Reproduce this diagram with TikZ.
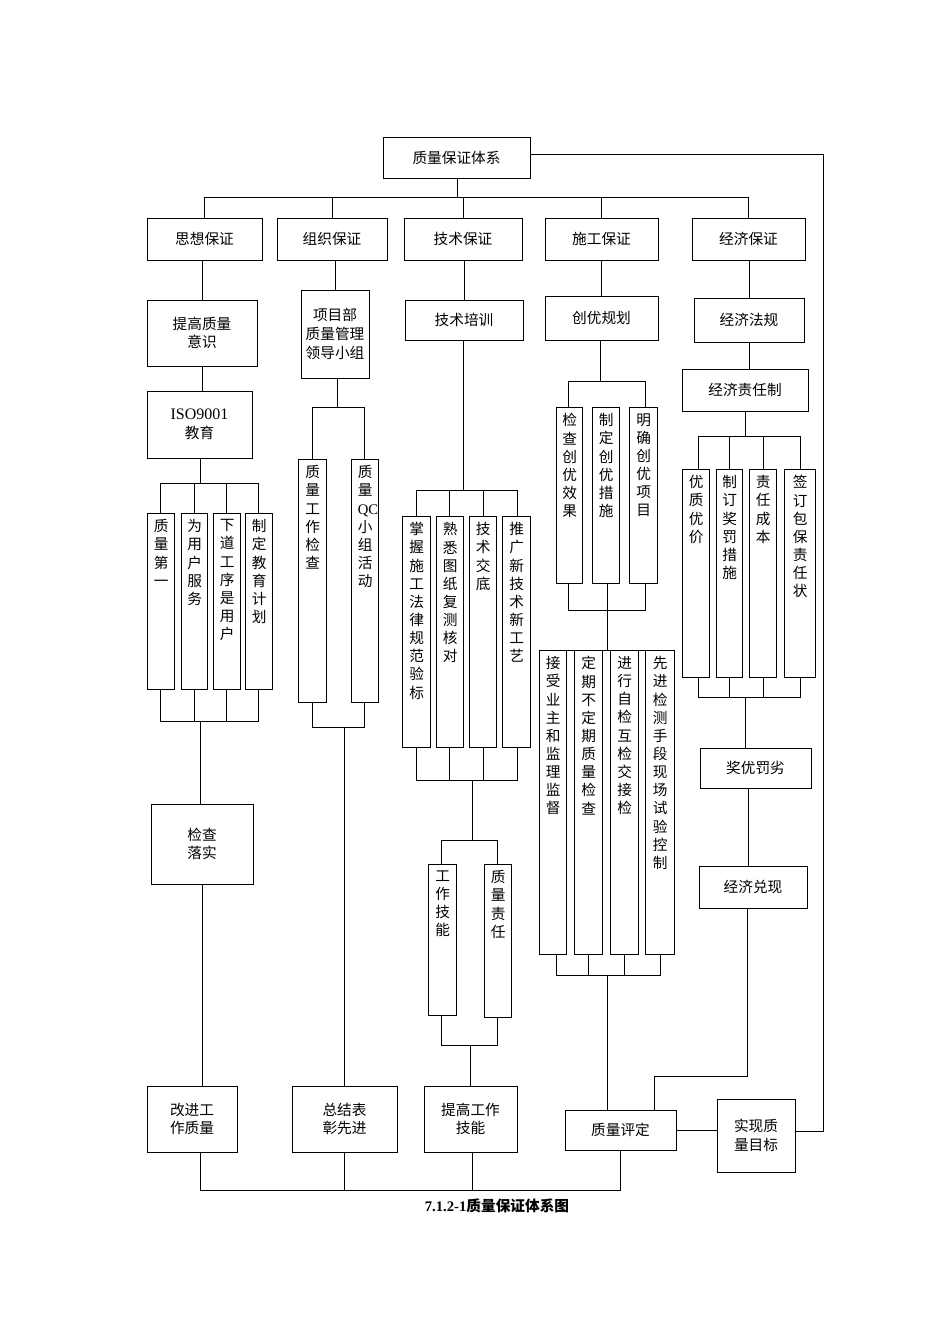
\documentclass[tikz,border=0pt]{standalone}
\usepackage{fontspec}
\setmainfont{Liberation Serif}
\newfontfamily\cjk{Noto Sans CJK SC}
\tikzset{
 box/.style={draw,line width=0.6pt,inner sep=1pt,font=\cjk\fontsize{11}{14}\selectfont,align=center},
 vtext/.style={inner sep=0pt,text width=1em,align=center,font=\cjk\fontsize{11}{13.6}\selectfont},
 ln/.style={line width=0.6pt}
}
\newcommand\hb[6]{\node[box,minimum width={(#4-#2)*0.75pt},minimum height={(#5-#3)*0.75pt}] (#1) at ({(#2+#4)/2},{(#3+#5)/2}) {#6};}
\newcommand\vb[6]{\node[box,minimum width={(#4-#2)*0.75pt},minimum height={(#5-#3)*0.75pt}] (#1) at ({(#2+#4)/2},{(#3+#5)/2}) {};
 \node[vtext,anchor=north] at ([yshift=-5pt]#1.north) {#6};}
\begin{document}
\begin{tikzpicture}[x=0.75pt,y=-0.75pt]
\useasboundingbox (0,0) rectangle (950,1344);
\fill[white] (0,0) rectangle (950,1344);
\hb{top}{383}{137}{530}{178}{质量保证体系}
\hb{s1}{147}{218}{262}{260}{思想保证}
\hb{s2}{277}{218}{387}{260}{组织保证}
\hb{s3}{404}{218}{522}{260}{技术保证}
\hb{s4}{545}{218}{658}{260}{施工保证}
\hb{s5}{692}{218}{805}{260}{经济保证}
\coordinate (bus1) at (457,197);
\draw[ln] (top.south-|bus1) -- (bus1);
\draw[ln] (s1.north) -- (s1.north|-bus1) -- (s5.north|-bus1) -- (s5.north);
\foreach \n in {s2,s3,s4} \draw[ln] (\n.north) -- (\n.north|-bus1);
% level 2
\hb{a1}{147}{300}{257}{366}{提高质量\\意识}
\hb{b1}{301}{290}{369}{378}{项目部\\质量管理\\领导小组}
\hb{c1}{405}{300}{523}{340}{技术培训}
\hb{d1}{545}{296}{658}{340}{创优规划}
\hb{e1}{694}{298}{804}{342}{经济法规}
\hb{e2}{682}{369}{808}{411}{经济责任制}
\hb{a2}{147}{391}{252}{458}{{\rmfamily\fontsize{12}{14}\selectfont ISO9001}\\教育}
\draw[ln] (s1.south-|a1.north) -- (a1.north);
\draw[ln] (a1.south) -- (a1.south|-a2.north);
\draw[ln] (s2.south-|b1.north) -- (b1.north);
\draw[ln] (s3.south-|c1.north) -- (c1.north);
\draw[ln] (s4.south-|d1.north) -- (d1.north);
\draw[ln] (s5.south-|e1.north) -- (e1.north);
\draw[ln] (e1.south) -- (e1.south|-e2.north);
% 思想
\vb{a3}{147}{513}{174}{689}{质\\量\\第\\一}
\vb{a4}{181}{513}{207}{689}{为\\用\\户\\服\\务}
\vb{a5}{213}{513}{240}{689}{下\\道\\工\\序\\是\\用\\户}
\vb{a6}{245}{513}{272}{689}{制\\定\\教\\育\\计\\划}
\coordinate (ab1) at (200,483);
\coordinate (ab2) at (200,721);
\draw[ln] (a2.south-|ab1) -- (ab1);
\draw[ln] (a3.north) -- (a3.north|-ab1) -- (a6.north|-ab1) -- (a6.north);
\draw[ln] (a4.north) -- (a4.north|-ab1) (a5.north) -- (a5.north|-ab1);
\draw[ln] (a3.south) -- (a3.south|-ab2) -- (a6.south|-ab2) -- (a6.south);
\draw[ln] (a4.south) -- (a4.south|-ab2) (a5.south) -- (a5.south|-ab2);
\hb{a7}{151}{804}{253}{884}{检查\\落实}
\hb{a8}{147}{1086}{237}{1152}{改进工\\作质量}
\draw[ln] (ab2) -- (ab2|-a7.north);
\draw[ln] (a7.south) -- (a7.south|-a8.north);
% 组织
\vb{b2}{298}{459}{326}{702}{质\\量\\工\\作\\检\\查}
\vb{b3}{351}{459}{378}{702}{质\\量\\{\fontsize{11}{13}\selectfont\rmfamily QC}\\小\\组\\活\\动}
\coordinate (bb1) at (337,407);
\coordinate (bb2) at (344,727);
\draw[ln] (b1.south-|bb1) -- (bb1);
\draw[ln] (b2.north-|312,0) -- (312,407) -- (364,407) -- (b3.north-|364,0);
\draw[ln] (b2.south-|312,0) -- (312,727) -- (364,727) -- (b3.south-|364,0);
\hb{b4}{292}{1086}{397}{1152}{总结表\\彰先进}
\draw[ln] (bb2) -- (bb2|-b4.north);
% 技术
\vb{c2}{402}{516}{430}{747}{掌\\握\\施\\工\\法\\律\\规\\范\\验\\标}
\vb{c3}{436}{516}{463}{747}{熟\\悉\\图\\纸\\复\\测\\核\\对}
\vb{c4}{469}{516}{496}{747}{技\\术\\交\\底}
\vb{c5}{502}{516}{530}{747}{推\\广\\新\\技\\术\\新\\工\\艺}
\coordinate (cb1) at (463,490);
\coordinate (cb2) at (472,780);
\draw[ln] (c1.south-|cb1) -- (cb1);
\draw[ln] (c2.north-|416,0) -- (416,490) -- (517,490) -- (c5.north-|517,0);
\draw[ln] (c3.north-|449,0) -- (449,490) (c4.north-|483,0) -- (483,490);
\draw[ln] (c2.south-|416,0) -- (416,780) -- (517,780) -- (c5.south-|517,0);
\draw[ln] (c3.south-|449,0) -- (449,780) (c4.south-|483,0) -- (483,780);
\vb{c6}{428}{864}{456}{1015}{工\\作\\技\\能}
\vb{c7}{484}{864}{511}{1017}{质\\量\\责\\任}
\coordinate (cb3) at (472,840);
\coordinate (cb4) at (470,1045);
\draw[ln] (cb2) -- (cb3);
\draw[ln] (c6.north-|441,0) -- (441,840) -- (497,840) -- (c7.north-|497,0);
\draw[ln] (c6.south-|441,0) -- (441,1045) -- (497,1045) -- (c7.south-|497,0);
\hb{c8}{424}{1086}{517}{1152}{提高工作\\技能}
\draw[ln] (cb4) -- (cb4|-c8.north);
% 施工
\vb{d2}{556}{407}{582}{583}{检\\查\\创\\优\\效\\果}
\vb{d3}{592}{407}{619}{583}{制\\定\\创\\优\\措\\施}
\vb{d4}{629}{407}{657}{583}{明\\确\\创\\优\\项\\目}
\coordinate (db1) at (600,381);
\draw[ln] (d1.south-|db1) -- (db1);
\draw[ln] (d2.north-|568,0) -- (568,381) -- (645,381) -- (d4.north-|645,0);
\draw[ln] (d2.south-|568,0) -- (568,610) -- (645,610) -- (d4.south-|645,0);
\draw[ln] (d3.south-|607,0) -- (607,610);
\vb{d5}{539}{650}{566}{954}{接\\受\\业\\主\\和\\监\\理\\监\\督}
\vb{d6}{574}{650}{602}{954}{定\\期\\不\\定\\期\\质\\量\\检\\查}
\vb{d7}{610}{650}{638}{954}{进\\行\\自\\检\\互\\检\\交\\接\\检}
\vb{d8}{645}{650}{674}{954}{先\\进\\检\\测\\手\\段\\现\\场\\试\\验\\控\\制}
\draw[ln] (607,610) -- (607,650);
\draw[ln] (d5.north-|556,0) -- (556,650) -- (660,650) -- (d8.north-|660,0);
\draw[ln] (d5.south-|556,0) -- (556,975) -- (660,975) -- (d8.south-|660,0);
\draw[ln] (d6.south-|588,0) -- (588,975) (d7.south-|624,0) -- (624,975);
\hb{d9}{565}{1110}{676}{1150}{质量评定}
\draw[ln] (607,975) -- (d9.north-|607,0);
% 经济
\vb{e3}{682}{469}{709}{677}{优\\质\\优\\价}
\vb{e4}{716}{469}{742}{677}{制\\订\\奖\\罚\\措\\施}
\vb{e5}{749}{469}{776}{677}{责\\任\\成\\本}
\vb{e6}{784}{469}{815}{677}{签\\订\\包\\保\\责\\任\\状}
\draw[ln] (e2.south-|745,0) -- (745,436);
\draw[ln] (e3.north-|698,0) -- (698,436) -- (800,436) -- (e6.north-|800,0);
\draw[ln] (e4.north-|729,0) -- (729,436) (e5.north-|763,0) -- (763,436);
\draw[ln] (e3.south-|698,0) -- (698,697) -- (800,697) -- (e6.south-|800,0);
\draw[ln] (e4.south-|729,0) -- (729,697) (e5.south-|763,0) -- (763,697);
\hb{e7}{700}{748}{811}{788}{奖优罚劣}
\hb{e8}{699}{866}{807}{908}{经济兑现}
\draw[ln] (745,697) -- (e7.north-|745,0);
\draw[ln] (e7.south-|748,0) -- (e8.north-|748,0);
\draw[ln] (e8.south-|747,0) -- (747,1076) -- (654,1076) -- (d9.north-|654,0);
\hb{f1}{717}{1099}{795}{1172}{实现质\\量目标}
\draw[ln] (d9.east) -- (d9.east-|f1.west);
\draw[ln] (top.east|-0,154) -- (823,154) -- (823,1131) -- (f1.east|-0,1131);
% bottom bus
\draw[ln] (d9.south-|620,0) -- (620,1190) -- (200,1190) -- (a8.south-|200,0);
\draw[ln] (b4.south-|344,0) -- (344,1190) (c8.south-|472,0) -- (472,1190);
\node[font=\bfseries\fontsize{11}{13}\selectfont] (cap) at (497,1206) {7.1.2-1{\cjk\bfseries 质量保证体系图}};
\end{tikzpicture}
\end{document}
